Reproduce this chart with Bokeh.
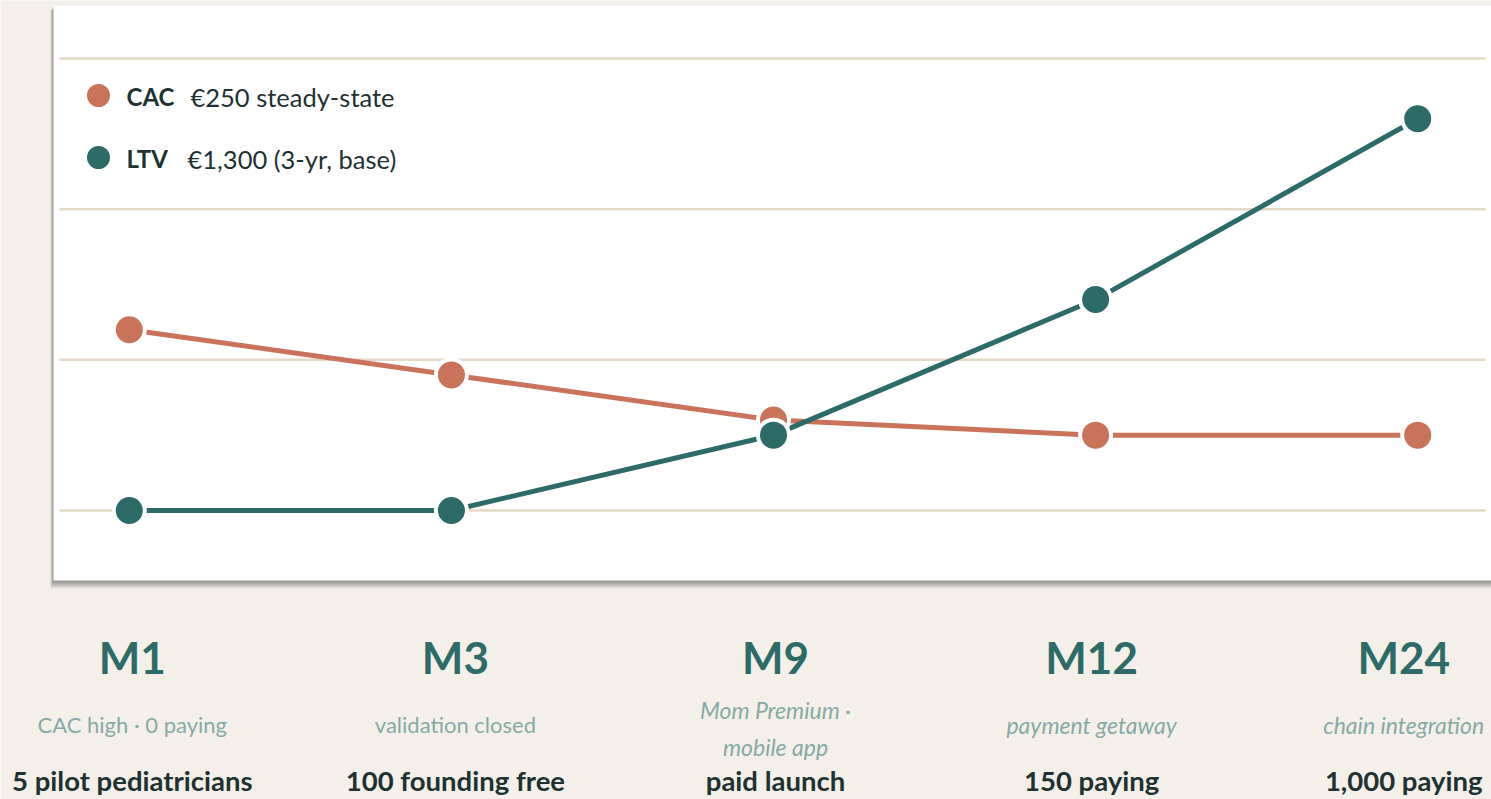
from bokeh.plotting import figure
from bokeh.models import Range1d, ColumnDataSource
from bokeh.core.properties import value
from bokeh.embed import file_html
from bokeh.resources import INLINE

# ---------------- data ----------------
months = ["M1", "M3", "M9", "M12", "M24"]
cac = [600, 450, 300, 250, 250]          # EUR
ltv = [0, 0, 250, 700, 1300]             # EUR
grid_values = [0, 500, 1000, 1500]
notes = ["CAC high · 0 paying", "validation closed", "Mom Premium ·", "payment getaway", "chain integration"]
notes_2 = ["", "", "mobile app", "", ""]
italic = [False, False, True, True, True]
milestones = ["5 pilot pediatricians", "100 founding free", "paid launch", "150 paying", "1,000 paying"]
legend_names = ["CAC", "LTV"]
legend_desc = ["€250 steady-state", "€1,300 (3-yr, base)"]

# ---------------- layout helpers (pixel -> data) ----------------
W, H = 1491, 799
X0, DX = 128.8, 322.1     # pixel of first category, pixels per category
Y0, SY = 510.0, 0.30133   # pixel of 0 EUR, pixels per EUR

def dx(px):
    return (px - X0) / DX

def dy(py):
    return (Y0 - py) / SY

BG = "#f4f0e9"
ORANGE = "#c8735a"
TEAL = "#2d6b68"
NOTE = "#86aaa6"
DARK = "#1d3231"
GRID = "#e4d9c5"
FONT = value("Lato")

p = figure(width=W, height=H, output_backend="svg", toolbar_location=None,
           x_range=Range1d(dx(0), dx(W)), y_range=Range1d(dy(H), dy(0)),
           min_border=0, background_fill_color=BG, border_fill_color=BG,
           outline_line_color=None)
p.axis.visible = False
p.grid.visible = False

# panel shadow + panel
for k in range(1, 9):
    p.quad(left=dx(53 - 0.4 * k), right=dx(1520), top=dy(5 + k * 0.6), bottom=dy(580 + k),
           fill_color="black", fill_alpha=0.055, line_color=None)
p.quad(left=dx(53), right=dx(1520), top=dy(5), bottom=dy(580),
       fill_color="white", line_color=None)

# gridlines
n = len(grid_values)
p.segment(x0=[dx(59)] * n, x1=[dx(1485)] * n, y0=grid_values, y1=grid_values,
          line_color=GRID, line_width=2.5)

xs = list(range(len(months)))

# lines
p.line(xs, cac, line_color=ORANGE, line_width=5)
p.line(xs, ltv, line_color=TEAL, line_width=5)

# markers with white halo
p.scatter(xs, cac, size=35, fill_color="white", line_color=None)
p.scatter(xs, cac, size=27, fill_color=ORANGE, line_color=None)
p.scatter(xs, ltv, size=35, fill_color="white", line_color=None)
p.scatter(xs, ltv, size=27, fill_color=TEAL, line_color=None)

# legend
leg_y = [dy(95), dy(157)]
p.scatter([dx(98)] * 2, leg_y, size=23, fill_color=[ORANGE, TEAL], line_color=None)
p.text([dx(126)] * 2, [dy(96), dy(158)], text=legend_names, text_font=FONT,
       text_font_style="bold", text_font_size="24px", text_color=DARK,
       text_align="left", text_baseline="middle")
p.text([dx(190), dx(187)], [dy(96), dy(158)], text=legend_desc, text_font=FONT,
       text_font_size="25.5px", text_color=DARK, text_align="left", text_baseline="middle")

# bottom labels
offs = [3, 4, 2, -4, -14]
src = ColumnDataSource(dict(x=xs, m=months, ms=milestones, off=offs))
p.text(x="x", y=dy(656), text="m", x_offset="off", source=src, text_font=FONT,
       text_font_style="bold", text_font_size="44px", text_color=TEAL,
       text_align="center", text_baseline="middle")
p.text(x="x", y=dy(780), text="ms", x_offset="off", source=src, text_font=FONT,
       text_font_style="bold", text_font_size="27.5px", text_color=DARK,
       text_align="center", text_baseline="middle")

for i in xs:
    style = "italic" if italic[i] else "normal"
    size = "23px" if italic[i] else "22px"
    if notes_2[i]:
        p.text([i], [dy(709)], text=[notes[i]], x_offset=offs[i], text_font=FONT,
               text_font_style=style, text_font_size=size, text_color=NOTE,
               text_align="center", text_baseline="middle")
        p.text([i], [dy(746)], text=[notes_2[i]], x_offset=offs[i], text_font=FONT,
               text_font_style=style, text_font_size=size, text_color=NOTE,
               text_align="center", text_baseline="middle")
    else:
        p.text([i], [dy(724)], text=[notes[i]], x_offset=offs[i], text_font=FONT,
               text_font_style=style, text_font_size=size, text_color=NOTE,
               text_align="center", text_baseline="middle")

open("out.html", "w").write(file_html(p, INLINE))
